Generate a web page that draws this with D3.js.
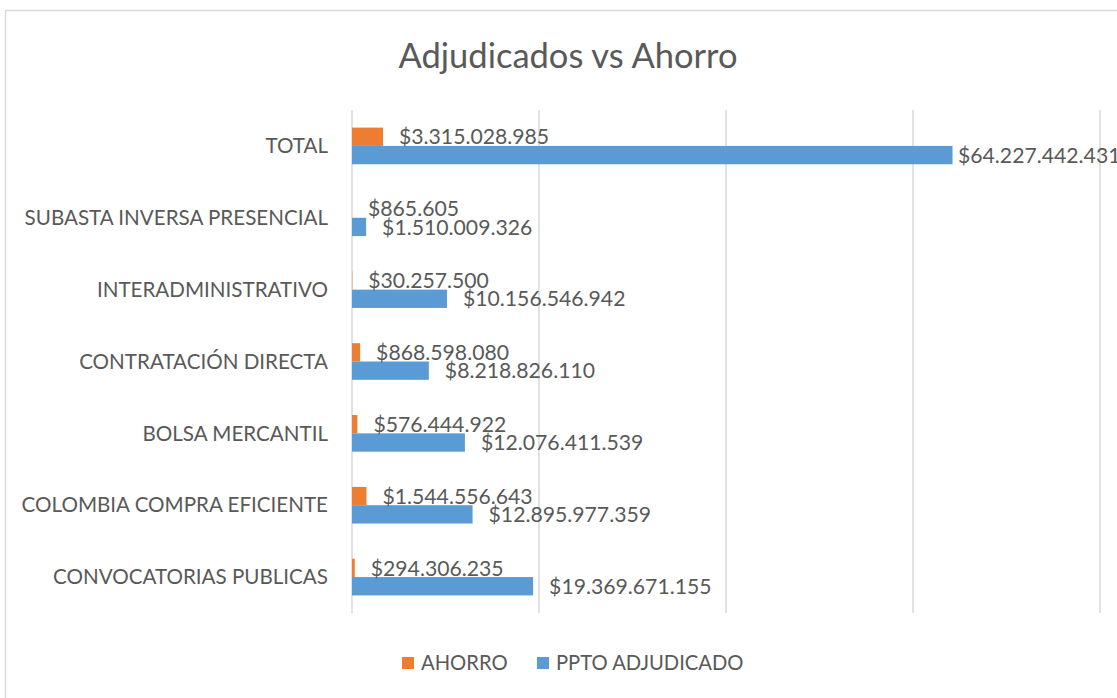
<!DOCTYPE html>
<html>
<head>
<meta charset="utf-8">
<script src="https://cdn.jsdelivr.net/npm/d3@7"></script>
<style>
  body { margin: 0; background: #fff; }
  text { font-family: Lato, "Open Sans", sans-serif; fill: #595959; }
</style>
</head>
<body>
<div id="chart"></div>
<script>
// data
const categories = ["TOTAL", "SUBASTA INVERSA PRESENCIAL", "INTERADMINISTRATIVO",
  "CONTRATACIÓN DIRECTA", "BOLSA MERCANTIL", "COLOMBIA COMPRA EFICIENTE", "CONVOCATORIAS PUBLICAS"];
const ahorro = [3315028985, 865605, 30257500, 868598080, 576444922, 1544556643, 294306235];
const pptoAdjudicado = [64227442431, 1510009326, 10156546942, 8218826110, 12076411539, 12895977359, 19369671155];
const seriesNames = ["AHORRO", "PPTO ADJUDICADO"];
const seriesColors = ["#ED7D31", "#5B9BD5"];
const xTicks = [0, 20e9, 40e9, 60e9, 80e9];

const width = 1117, height = 698;
const plot = { left: 352, right: 1100, top: 110, bottom: 613 };

const svg = d3.select("#chart")
  .append("svg")
  .attr("width", width)
  .attr("height", height);

// chart area border (runs past the right / bottom edge)
svg.append("rect")
  .attr("x", 5.5).attr("y", 10.5)
  .attr("width", 1140).attr("height", 720)
  .attr("fill", "none")
  .attr("stroke", "#d9d9d9")
  .attr("stroke-width", 1.5);

const x = d3.scaleLinear()
  .domain([0, 80e9])
  .range([plot.left, plot.right]);

const y = d3.scaleBand()
  .domain(categories)
  .range([plot.top, plot.bottom])
  .paddingInner(0.49)
  .paddingOuter(0.245);

const ySub = d3.scaleBand()
  .domain(seriesNames)
  .range([0, y.bandwidth()]);

// gridlines
svg.append("g")
  .selectAll("line")
  .data(xTicks)
  .join("line")
  .attr("x1", d => x(d)).attr("x2", d => x(d))
  .attr("y1", plot.top).attr("y2", plot.bottom)
  .attr("stroke", "#d9d9d9")
  .attr("stroke-width", 1.5);

// title
svg.append("text")
  .attr("x", 568)
  .attr("y", 68)
  .attr("text-anchor", "middle")
  .style("font-size", "34.5px")
  .text("Adjudicados vs Ahorro");

// category labels
svg.append("g")
  .selectAll("text")
  .data(categories)
  .join("text")
  .attr("x", plot.left - 24)
  .attr("y", d => y(d) + y.bandwidth() / 2)
  .attr("dy", "0.35em")
  .attr("text-anchor", "end")
  .style("font-size", "20.6px")
  .text(d => d);

const rows = categories.map((c, i) => ({
  category: c,
  values: [
    { series: seriesNames[0], value: ahorro[i] },
    { series: seriesNames[1], value: pptoAdjudicado[i] }
  ]
}));

const fmt = v => "$" + d3.format(",")(v).replace(/,/g, ".");

const group = svg.append("g")
  .selectAll("g")
  .data(rows)
  .join("g")
  .attr("transform", d => `translate(0,${y(d.category)})`);

group.selectAll("rect")
  .data(d => d.values)
  .join("rect")
  .attr("x", x(0))
  .attr("y", d => ySub(d.series))
  .attr("width", d => x(d.value) - x(0))
  .attr("height", ySub.bandwidth())
  .attr("fill", (d, i) => seriesColors[i]);

group.selectAll("text")
  .data(d => d.values)
  .join("text")
  .attr("x", d => Math.min(x(d.value) + 16, 958))
  .attr("y", d => ySub(d.series) + ySub.bandwidth() / 2)
  .attr("dy", "0.36em")
  .style("font-size", "21.2px")
  .text(d => fmt(d.value));

// legend
const legend = svg.append("g")
  .attr("transform", "translate(402,657)");

const legendX = [0, 135];
const item = legend.selectAll("g")
  .data(seriesNames)
  .join("g")
  .attr("transform", (d, i) => `translate(${legendX[i]},0)`);

item.append("rect")
  .attr("width", 12).attr("height", 12)
  .attr("fill", (d, i) => seriesColors[i]);

item.append("text")
  .attr("x", 19)
  .attr("y", 6)
  .attr("dy", "0.36em")
  .style("font-size", "20.2px")
  .text(d => d);
</script>
</body>
</html>
